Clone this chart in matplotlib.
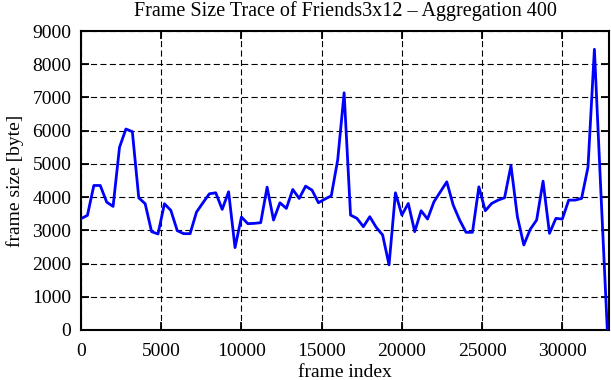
import matplotlib
matplotlib.use("Agg")
import matplotlib.pyplot as plt

frame_index = [0, 400, 800, 1200, 1600, 2000, 2400, 2800, 3200, 3600,
               4000, 4400, 4800, 5200, 5600, 6000, 6400, 6800, 7200, 7600,
               8000, 8400, 8800, 9200, 9600, 10000, 10400, 10800, 11200, 11600,
               12000, 12400, 12800, 13200, 13600, 14000, 14400, 14800, 15200, 15600,
               16000, 16400, 16800, 17200, 17600, 18000, 18400, 18800, 19200, 19600,
               20000, 20400, 20800, 21200, 21600, 22000, 22400, 22800, 23200, 23600,
               24000, 24400, 24800, 25200, 25600, 26000, 26400, 26800, 27200, 27600,
               28000, 28400, 28800, 29200, 29600, 30000, 30400, 30800, 31200, 31600,
               32000, 32400, 32800]
frame_size = [3350, 3450, 4350, 4350, 3850, 3720, 5500, 6050, 5970, 3980,
              3800, 2960, 2890, 3800, 3600, 2990, 2900, 2900, 3550, 3830,
              4100, 4130, 3630, 4160, 2480, 3400, 3200, 3210, 3230, 4300,
              3310, 3830, 3660, 4230, 3960, 4330, 4210, 3830, 3940, 4040,
              5120, 7140, 3460, 3360, 3110, 3410, 3090, 2860, 1960, 4130,
              3460, 3810, 2960, 3590, 3340, 3860, 4160, 4460, 3760, 3310,
              2940, 2940, 4310, 3590, 3810, 3910, 3980, 4950, 3410, 2560,
              3030, 3310, 4480, 2910, 3360, 3340, 3910, 3910, 3960, 4900,
              8450, 4200, 50]

x_ticks = [0, 5000, 10000, 15000, 20000, 25000, 30000]
y_ticks = [0, 1000, 2000, 3000, 4000, 5000, 6000, 7000, 8000, 9000]

plt.rcParams['font.family'] = ['Liberation Serif', 'DejaVu Serif']
plt.rcParams['font.size'] = 14

W, H = 611, 380
fig = plt.figure(figsize=(W / 100, H / 100), dpi=100)
ax = fig.add_axes([81 / W, 1 - 330 / H, (609 - 81) / W, (330 - 31) / H])

ax.plot(frame_index, frame_size, color='#0000ff', linewidth=2.0, zorder=3)

ax.set_xlim(0, 32910)
ax.set_ylim(0, 9000)
ax.set_xticks(x_ticks)
ax.set_yticks(y_ticks)
ax.grid(True, color='black', linestyle=(0, (5.5, 3)), linewidth=0.8)
ax.tick_params(direction='in', length=6, width=1.3, top=True, right=True,
               labelsize=14, colors='black')
ax.tick_params(axis='x', pad=9)
ax.tick_params(axis='y', pad=7)
for s in ax.spines.values():
    s.set_linewidth(1.5)

ax.set_title('Frame Size Trace of Friends3x12 \u2013 Aggregation 400', fontsize=14.5, pad=11)
ax.set_xlabel('frame index', fontsize=14, labelpad=3)
ax.set_ylabel('frame size [byte]', fontsize=14, labelpad=6)

fig.savefig('out.png', dpi=100)
